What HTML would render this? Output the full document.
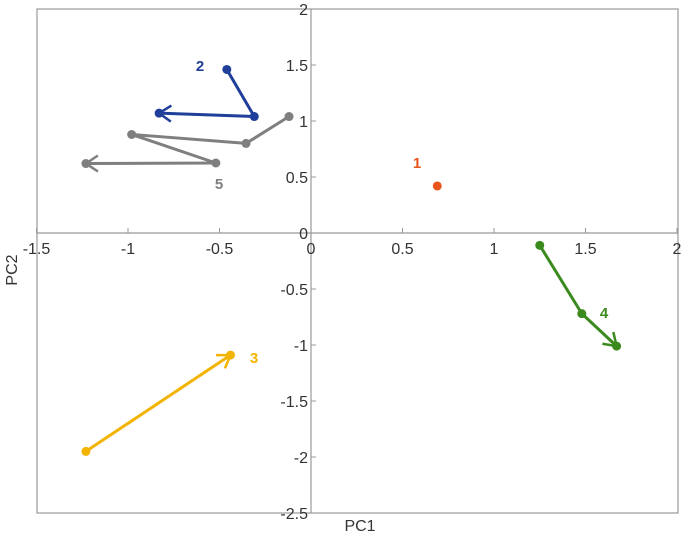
<!DOCTYPE html>
<html><head><meta charset="utf-8"><style>
body{margin:0;background:#fff}
svg{display:block;font-family:"Liberation Sans",Arial,sans-serif}
</style></head><body>
<svg id="chart" width="684" height="539">
<defs>
<marker id="arr" markerWidth="20" markerHeight="20" refX="15" refY="10" orient="auto" markerUnits="userSpaceOnUse"><path d="M3,2 L15,10 L3,18" fill="none" stroke="context-stroke" stroke-width="2.5"/></marker>
</defs>
<rect x="37" y="9" width="641" height="504" fill="none" stroke="#999" stroke-width="1.2"/>
<g id="axes"></g><g id="series"></g>
<text x="360" y="531" font-size="16" fill="#333" text-anchor="middle">PC1</text>
<text x="17" y="270" font-size="16" fill="#333" text-anchor="middle" transform="rotate(-90 17 270)">PC2</text>
</svg>
<script>
const xTicks=[-1.5,-1,-0.5,0,0.5,1,1.5,2];
const yTicks=[2,1.5,1,0.5,0,-0.5,-1,-1.5,-2,-2.5];
const s1x=[0.69], s1y=[0.42];
const s2x=[-0.46,-0.31,-0.83], s2y=[1.46,1.04,1.07];
const s3x=[-1.23,-0.44], s3y=[-1.95,-1.09];
const s4x=[1.25,1.48,1.67], s4y=[-0.11,-0.72,-1.01];
const s5x=[-0.12,-0.355,-0.98,-0.52,-1.23], s5y=[1.04,0.80,0.88,0.625,0.62];
const X=v=>311+v*183, Y=v=>233-v*112;
const NS="http://www.w3.org/2000/svg";
const ax=document.getElementById('axes'), sg=document.getElementById('series');
function mk(tag,attrs,parent){const e=document.createElementNS(NS,tag);for(const k in attrs)e.setAttribute(k,attrs[k]);parent.appendChild(e);return e;}
let l=mk('line',{x1:37,x2:678,y1:Y(0),y2:Y(0),stroke:'#999','stroke-width':1.2},ax);


l=mk('line',{x1:X(0),x2:X(0),y1:9,y2:513,stroke:'#999','stroke-width':1.2},ax);


xTicks.forEach(v=>{
 mk('line',{x1:X(v),x2:X(v),y1:Y(0)-5,y2:Y(0),stroke:'#999'},ax);
 const t=mk('text',{x:X(v),y:Y(0)+21,'font-size':16,fill:'#333','text-anchor':'middle'},ax);
 t.textContent=String(v);
 
 
});
yTicks.forEach(v=>{
 mk('line',{x1:X(0),x2:X(0)+5,y1:Y(v),y2:Y(v),stroke:'#999'},ax);
 const t=mk('text',{x:X(0)-3,y:Y(v)+6,'font-size':16,fill:'#333','text-anchor':'end'},ax);
 t.textContent=String(v);
 
 
});
function series(xs,ys,color,name,arrow,lab,lx,ly){
 const g=mk('g',{},sg);
 
 
 if(xs.length>1){
  const p=mk('polyline',{points:xs.map((v,i)=>X(v)+','+Y(ys[i])).join(' '),fill:'none',stroke:color,'stroke-width':3,'stroke-linejoin':'round'},g);
  if(arrow)p.setAttribute('marker-end','url(#arr)');
  
  
 }
 xs.forEach((v,i)=>{
  const c=mk('circle',{cx:X(v),cy:Y(ys[i]),r:4.5,fill:color},g);
  
  
 });
 const t=mk('text',{x:lx,y:ly,'font-size':15,'font-weight':'bold',fill:color,'text-anchor':'middle'},g);
 t.textContent=lab;
 
 
}
series(s5x,s5y,'#7f7f7f','series-5',true,'5',219,189);
series(s2x,s2y,'#1f3f9a','series-2',true,'2',200,71);
series(s1x,s1y,'#e8541c','series-1',false,'1',417,168);
series(s4x,s4y,'#3a8a1e','series-4',true,'4',604,318);
series(s3x,s3y,'#f2b400','series-3',true,'3',254,363);
</script>
</body></html>
